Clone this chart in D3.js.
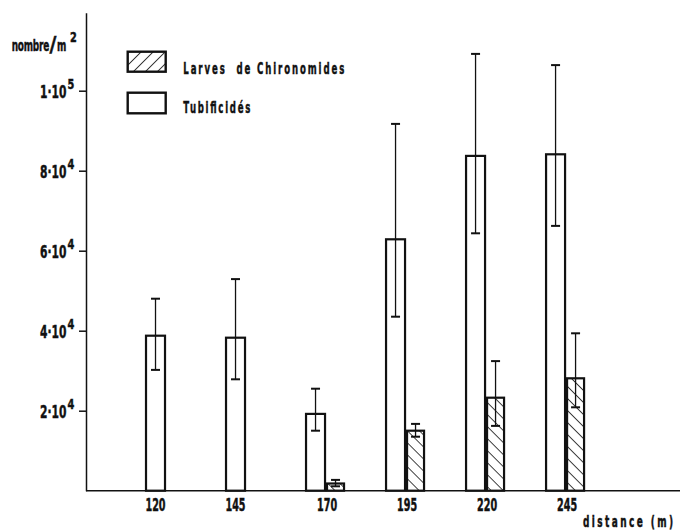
<!DOCTYPE html>
<html>
<head>
<meta charset="utf-8">
<script src="https://cdn.jsdelivr.net/npm/d3@7"></script>
<style>
  body { margin: 0; background: #fff; }
  svg text { font-family: "DejaVu Sans", sans-serif; font-weight: bold; fill: #111; stroke: #111; stroke-width: 0.5px; white-space: pre; }
</style>
</head>
<body>
<div id="chart"></div>
<script>
// distances (m)
const distances = [120, 145, 170, 195, 220, 245];
// Tubificidés (nombre/m2)
const tubif     = [38750, 38250, 19200, 62850, 83700, 84100];
const tubifLow  = [30200, 27850, 15000, 43500, 64350, 66200];
const tubifHigh = [48000, 52900, 25500, 91700, 109200, 106400];
// Larves de Chironomides
const chiro     = [null, null, 1800, 15000, 23250, 28100];
const chiroLow  = [null, null, 1100, 13500, 16200, 20850];
const chiroHigh = [null, null, 2700, 16700, 32400, 39350];
// ticks axe Y
const yTicks = [20000, 40000, 60000, 80000, 100000];
const yTickLabels = [["2·10", "4"], ["4·10", "4"], ["6·10", "4"], ["8·10", "4"], ["1·10", "5"]];

const W = 680, H = 530;
const ink = "#111";

const svg = d3.select("#chart").append("svg")
    .attr("width", W)
    .attr("height", H);

const x = d3.scaleLinear().domain([95, 280.6]).range([86, 680]);
const y = d3.scaleLinear().domain([0, 100000]).range([490.7, 90.7]);

const bwT = 21, bwC = 19;

// texte étroit (police grasse resserrée)
function txt(px, py, str, size, sx, anchor, width) {
    const t = svg.append("text")
        .attr("transform", `translate(${px},${py}) scale(${sx},1)`)
        .attr("text-anchor", anchor || "start")
        .style("font-size", size + "px")
        .text(str);
    if (width) t.attr("textLength", width / sx).attr("lengthAdjust", "spacing");
    return t;
}

// motifs hachures
const defs = svg.append("defs");
defs.append("pattern")
    .attr("id", "hatchBar")
    .attr("patternUnits", "userSpaceOnUse")
    .attr("width", 8.5).attr("height", 8.5)
    .attr("patternTransform", "rotate(-45)")
    .append("line")
    .attr("x1", 0).attr("y1", -1).attr("x2", 0).attr("y2", 10)
    .attr("stroke", ink).attr("stroke-width", 1.6);
defs.append("pattern")
    .attr("id", "hatchLeg")
    .attr("patternUnits", "userSpaceOnUse")
    .attr("width", 8.5).attr("height", 8.5)
    .attr("patternTransform", "rotate(45)")
    .append("line")
    .attr("x1", 0).attr("y1", -1).attr("x2", 0).attr("y2", 10)
    .attr("stroke", ink).attr("stroke-width", 1.6);

// axe Y
const yAxis = d3.scaleLinear().domain([0, 119500]).range([490.7, 12.7]);
const gy = svg.append("g")
    .attr("transform", "translate(86,0)")
    .call(d3.axisLeft(yAxis).tickValues(yTicks).tickSize(7).tickSizeOuter(0).tickFormat(""));
gy.selectAll("path, line").attr("stroke", ink).attr("stroke-width", 1.5);

yTicks.forEach((v, i) => {
    txt(66.5, y(v) + 7.5, yTickLabels[i][0], 17, 0.63, "end");
    txt(67.5, y(v) - 1.5, yTickLabels[i][1], 14, 0.7, "start");
});

// axe X
svg.append("line")
    .attr("x1", x(95)).attr("x2", x(280.6))
    .attr("y1", y(0)).attr("y2", y(0))
    .attr("stroke", ink).attr("stroke-width", 1.5);

// barres Tubificidés
svg.selectAll("rect.tubif")
    .data(distances)
    .enter()
    .append("rect")
    .attr("class", "tubif")
    .attr("x", d => x(d) - bwT + 1)
    .attr("width", bwT - 2)
    .attr("y", (d, i) => y(tubif[i]))
    .attr("height", (d, i) => y(0) - y(tubif[i]))
    .attr("fill", "#fff")
    .attr("stroke", ink)
    .attr("stroke-width", 2.2);

// barres Chironomides
const chiroIdx = distances.map((d, i) => i).filter(i => chiro[i] !== null);
svg.selectAll("rect.chiro")
    .data(chiroIdx)
    .enter()
    .append("rect")
    .attr("class", "chiro")
    .attr("x", i => x(distances[i]) + 1)
    .attr("width", bwC - 2)
    .attr("y", i => y(chiro[i]))
    .attr("height", i => y(0) - y(chiro[i]))
    .attr("fill", "url(#hatchBar)")
    .attr("stroke", ink)
    .attr("stroke-width", 2.2);

// barres d'erreur
function errorBar(cx, lo, hi) {
    svg.append("line")
        .attr("x1", cx).attr("x2", cx)
        .attr("y1", y(lo)).attr("y2", y(hi))
        .attr("stroke", ink).attr("stroke-width", 1.3);
    [lo, hi].forEach(v => {
        svg.append("line")
            .attr("x1", cx - 4.5).attr("x2", cx + 4.5)
            .attr("y1", y(v)).attr("y2", y(v))
            .attr("stroke", ink).attr("stroke-width", 2);
    });
}
distances.forEach((d, i) => errorBar(x(d) - bwT / 2, tubifLow[i], tubifHigh[i]));
chiroIdx.forEach(i => errorBar(x(distances[i]) + bwC / 2, chiroLow[i], chiroHigh[i]));

// étiquettes X
distances.forEach((d, i) => {
    const cx = chiro[i] === null ? x(d) - bwT / 2 : x(d) + 1;
    txt(cx, 510.5, String(d), 17.5, 0.55, "middle");
});

txt(583, 527, "distance (m)", 16, 0.56, "start", 90);

// titre axe Y
txt(11.7, 50.5, "nombre", 16, 0.56, "start", 37.6);
txt(49.5, 51.5, "/", 21, 0.9, "start");
txt(57, 50.5, "m", 16, 0.56, "start", 11);
txt(70, 41.5, "2", 14, 0.7, "start");

// légende
svg.append("rect")
    .attr("x", 127.7).attr("y", 51.7).attr("width", 38).attr("height", 20)
    .attr("fill", "url(#hatchLeg)")
    .attr("stroke", ink).attr("stroke-width", 2.4);
svg.append("rect")
    .attr("x", 127.7).attr("y", 92.7).attr("width", 38).attr("height", 20.6)
    .attr("fill", "#fff")
    .attr("stroke", ink).attr("stroke-width", 2.4);
txt(183.3, 73.5, "Larves  de Chironomides", 16.5, 0.52, "start", 161);
txt(183.3, 113.3, "Tubificidés", 16.5, 0.52, "start", 67);
</script>
</body>
</html>
